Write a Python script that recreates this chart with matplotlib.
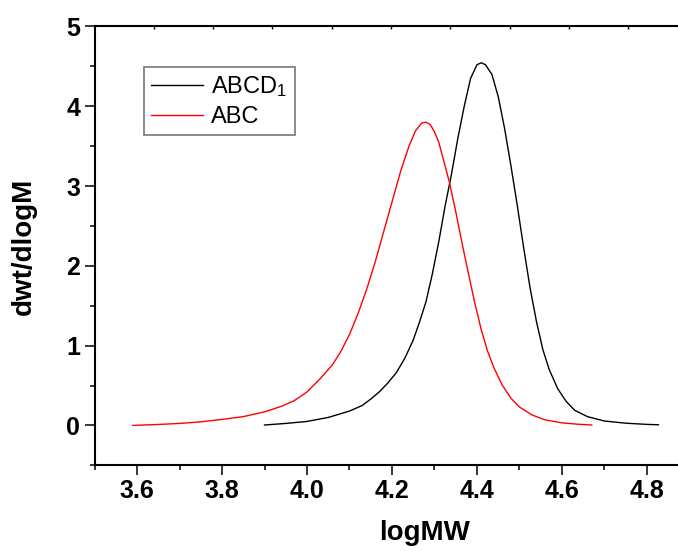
import matplotlib
matplotlib.use("Agg")
import matplotlib.pyplot as plt
from matplotlib.ticker import MultipleLocator, FormatStrFormatter

plt.rcParams['font.family'] = ['Liberation Sans', 'DejaVu Sans']
plt.rcParams['mathtext.fontset'] = 'custom'
plt.rcParams['mathtext.rm'] = 'Liberation Sans'
plt.rcParams['mathtext.it'] = 'Liberation Sans'

# ABCD1 (black) curve
abcd_x = [3.900, 3.950, 4.000, 4.050, 4.100, 4.130, 4.150, 4.170, 4.190, 4.210,
          4.230, 4.250, 4.265, 4.280, 4.295, 4.310, 4.325, 4.340, 4.355, 4.370,
          4.385, 4.400, 4.410, 4.420, 4.435, 4.450, 4.465, 4.480, 4.495, 4.510,
          4.525, 4.540, 4.555, 4.570, 4.590, 4.610, 4.630, 4.660, 4.700, 4.750,
          4.800, 4.827]
abcd_y = [0.005, 0.025, 0.050, 0.100, 0.180, 0.250, 0.330, 0.420, 0.530, 0.660,
          0.840, 1.070, 1.300, 1.550, 1.900, 2.300, 2.750, 3.150, 3.600, 4.000,
          4.350, 4.520, 4.545, 4.520, 4.400, 4.120, 3.720, 3.250, 2.750, 2.220,
          1.720, 1.300, 0.950, 0.700, 0.460, 0.300, 0.190, 0.110, 0.055, 0.028,
          0.013, 0.008]

# ABC (red) curve
abc_x = [3.590, 3.650, 3.700, 3.750, 3.800, 3.850, 3.900, 3.940, 3.970, 4.000,
         4.030, 4.060, 4.080, 4.100, 4.120, 4.140, 4.160, 4.180, 4.200, 4.220,
         4.240, 4.255, 4.270, 4.280, 4.290, 4.300, 4.310, 4.320, 4.335, 4.350,
         4.365, 4.380, 4.395, 4.410, 4.425, 4.440, 4.460, 4.480, 4.500, 4.530,
         4.560, 4.600, 4.640, 4.670]
abc_y = [0.000, 0.012, 0.025, 0.045, 0.075, 0.110, 0.170, 0.240, 0.310, 0.420,
         0.580, 0.760, 0.930, 1.140, 1.400, 1.700, 2.040, 2.420, 2.800, 3.180,
         3.500, 3.690, 3.790, 3.800, 3.770, 3.680, 3.550, 3.350, 3.050, 2.680,
         2.280, 1.900, 1.530, 1.200, 0.930, 0.720, 0.500, 0.340, 0.230, 0.130,
         0.070, 0.032, 0.014, 0.005]

fig = plt.figure(figsize=(6.78, 5.51), dpi=100)
ax = fig.add_axes([0.1394, 0.1555, 1 - 0.1394, 0.7965])

ax.plot(abcd_x, abcd_y, color='black', linewidth=1.0, label='ABCD$_1$',
        solid_joinstyle='round')
ax.plot(abc_x, abc_y, color='red', linewidth=1.0, label='ABC',
        solid_joinstyle='round')

ax.set_xlim(3.5, 4.873)
ax.set_ylim(-0.5, 5)
ax.xaxis.set_major_locator(MultipleLocator(0.2))
ax.xaxis.set_minor_locator(MultipleLocator(0.1))
ax.yaxis.set_major_locator(MultipleLocator(1))
ax.yaxis.set_minor_locator(MultipleLocator(0.5))
ax.xaxis.set_major_formatter(FormatStrFormatter('%.1f'))

ax.tick_params(which='major', direction='out', length=7.2, width=1.1,
               labelsize=18, pad=3, top=False, right=False)
ax.tick_params(which='minor', direction='out', length=3.6, width=1.1,
               top=False, right=False)
for lbl in ax.get_xticklabels() + ax.get_yticklabels():
    lbl.set_fontweight('bold')

for s in ['left', 'bottom', 'top']:
    ax.spines[s].set_linewidth(1.5)
ax.spines['right'].set_visible(False)

ax.set_xlabel('logMW', fontsize=20, fontweight='bold')
ax.set_ylabel('dwt/dlogM', fontsize=20, fontweight='bold', labelpad=21)
ax.xaxis.set_label_coords(0.565, -0.125)

# small inward ticks along the top edge
top = ax.twiny()
top.set_xlim(0, 583.5 / 59.3)
top.set_xticks(range(1, 10))
top.tick_params(direction='in', length=2, width=1.0, labeltop=False)
top.set_frame_on(False)

leg = ax.legend(loc='upper left', bbox_to_anchor=(0.085, 0.907), fontsize=17,
                frameon=True, fancybox=False, handlelength=2.2,
                handletextpad=0.35, borderpad=0.3, labelspacing=0.3,
                borderaxespad=0)
leg.get_frame().set_edgecolor('#555555')
leg.get_frame().set_linewidth(1.2)

fig.savefig('out.png', dpi=100)
